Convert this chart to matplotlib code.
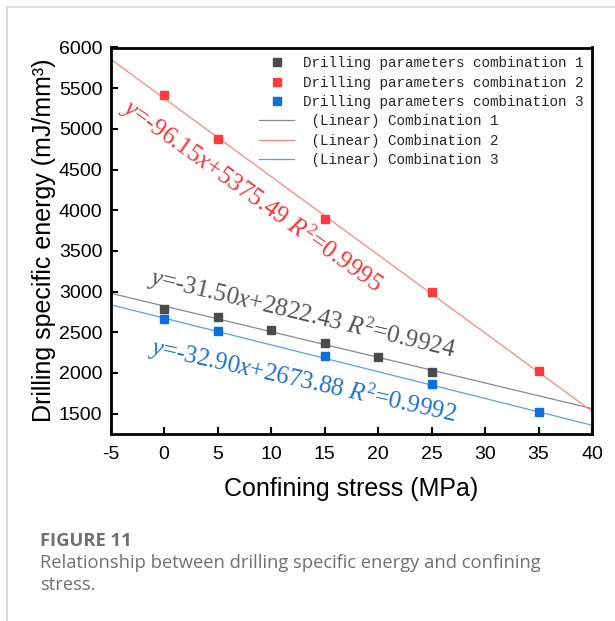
import matplotlib
matplotlib.use("Agg")
import matplotlib.pyplot as plt
import numpy as np
from matplotlib.lines import Line2D

plt.rcParams['mathtext.fontset'] = 'custom'
plt.rcParams['mathtext.rm'] = 'Liberation Serif'
plt.rcParams['mathtext.it'] = 'Liberation Serif:italic'

# ---- data ----
x1 = [0, 5, 10, 15, 20, 25]
y1 = [2784, 2694, 2527, 2363, 2200, 2016]
x2 = [0, 5, 15, 25, 35]
y2 = [5414, 4881, 3894, 2996, 2020]
x3 = [0, 5, 15, 25, 35]
y3 = [2669, 2510, 2204, 1865, 1518]

slopes = [-31.50, -96.15, -32.90]
intercepts = [2822.43, 5375.49, 2673.88]
r2 = [0.9924, 0.9995, 0.9992]

names = ["Drilling parameters combination 1",
         "Drilling parameters combination 2",
         "Drilling parameters combination 3"]
fit_names = [" (Linear) Combination 1",
             " (Linear) Combination 2",
             " (Linear) Combination 3"]

xticks = [-5, 0, 5, 10, 15, 20, 25, 30, 35, 40]
yticks = [1500, 2000, 2500, 3000, 3500, 4000, 4500, 5000, 5500, 6000]

mcolors = ['#4b4b4b', '#ff3b3b', '#0b6fe0']
lcolors = ['#8a8a8a', '#ff8585', '#5c9ff0']
tcolors = ['#555555', '#ff3333', '#1a70e0']

fig = plt.figure(figsize=(6.15, 6.21), dpi=100)
ax = fig.add_axes([110.7/615, 1-434/621, (592-110.7)/615, (434-47.5)/621])

xs_line = np.array([-5, 40])
marker_handles = []
line_handles = []
for k in range(3):
    ln, = ax.plot(xs_line, slopes[k]*xs_line + intercepts[k], color=lcolors[k], lw=0.9, zorder=2)
    line_handles.append(ln)
for xs, ys, m in zip([x1, x2, x3], [y1, y2, y3], mcolors):
    mk, = ax.plot(xs, ys, 's', color=m, ms=6.3, mec=m, zorder=3, ls='none')
    marker_handles.append(mk)

ax.set_xlim(-5, 40)
ax.set_ylim(1250, 6000)
ax.set_xticks(xticks)
ax.set_yticks(yticks)
ax.set_xticklabels([str(v) for v in xticks])
ax.tick_params(direction='in', length=5, width=1.5, labelsize=14, top=False, right=False)
ax.tick_params(axis='x', pad=8.5)
ax.tick_params(axis='y', pad=6)
for lab in ax.get_xticklabels() + ax.get_yticklabels():
    lab.set_fontfamily('Liberation Sans')
for s in ax.spines.values():
    s.set_linewidth(2)

ax.set_xlabel("Confining stress (MPa)", fontsize=18, family='Liberation Sans', labelpad=10)
ax.set_ylabel("Drilling specific energy (mJ/mm³)", fontsize=18, family='Liberation Sans', labelpad=2)

leg = ax.legend(marker_handles + line_handles, names + fit_names,
                loc='upper right', frameon=False, prop={'family': 'Liberation Mono', 'size': 10.3},
                handlelength=2.45, handletextpad=0.6, labelspacing=0.38,
                borderaxespad=0.3, borderpad=0.3)
for t in leg.get_texts():
    t.set_color('#262626')

# annotations
ann_pos = [(12.89, 2727, -13.5), (8.21, 4187, -35.5), (12.98, 1908, -12.5)]
for k in range(3):
    xp, yp, rot = ann_pos[k]
    txt = r"$y$=%.2f$x$+%.2f $R^2$=%.4f" % (slopes[k], intercepts[k], r2[k])
    ax.text(xp, yp, txt, color=tcolors[k], fontsize=18, family='Liberation Serif',
            rotation=rot, rotation_mode='anchor', ha='center', va='center', zorder=4)

# caption
fig.text(40/615, 1-541/621, "FIGURE 11", fontsize=13.2, fontweight='bold', family='Open Sans',
         color='#707070', va='center', ha='left')
fig.text(40/615, 1-563.5/621, "Relationship between drilling specific energy and confining",
         fontsize=13.2, family='Open Sans', color='#707070', va='center', ha='left')
fig.text(40/615, 1-585.5/621, "stress.",
         fontsize=13.2, family='Open Sans', color='#707070', va='center', ha='left')

# card border
fig.add_artist(Line2D([7/615, 7/615, 1.0], [0, 1-7/621, 1-7/621],
                      transform=fig.transFigure, color='#dddddd', lw=1.5))

fig.savefig("out.png", dpi=100)
